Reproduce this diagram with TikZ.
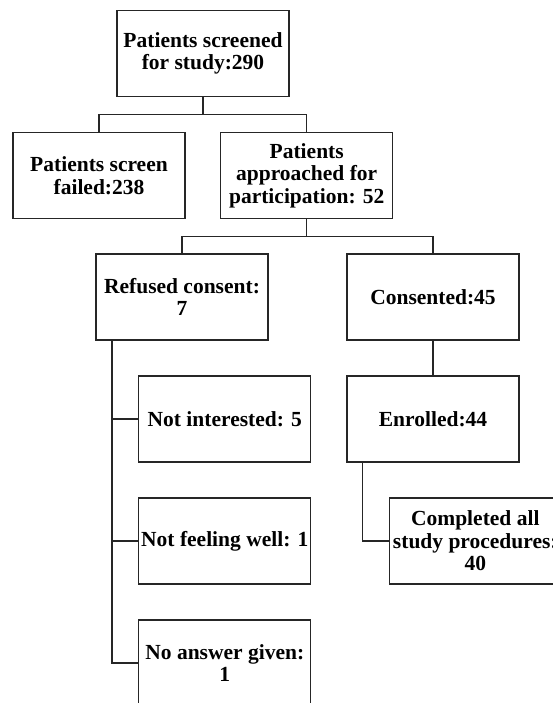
\documentclass[tikz,border=0pt]{standalone}
\usepackage{fontspec}
\setmainfont{Liberation Serif}
\begin{document}
\begin{tikzpicture}[x=1pt,y=-1pt,
  box/.style={draw=black!85, line width=1.1pt, minimum width=172pt, minimum height=86pt,
    inner sep=1pt, align=center, font=\bfseries\fontsize{21.5}{22.5}\selectfont},
  conn/.style={draw=black!85, line width=1.1pt}]
\clip (0,0) rectangle (553,703);
\fill[white] (0,0) rectangle (553,703);
\node[box] (top) at (203,53.5) {Patients screened\\for study:290};
\node[box] (fail) at (99,175.5) {Patients screen\\failed:238};
\node[box] (appr) at (306.7,175.5) {Patients\\approached for\\participation: 52};
\node[box] (ref) at (182,297) {Refused consent:\\7};
\node[box] (cons) at (433,297) {Consented:45};
\node[box] (notint) at (224.8,419) {Not interested: 5};
\node[box] (enr) at (433,419) {Enrolled:44};
\node[box] (notfeel) at (224.8,541) {Not feeling well: 1};
\node[box] (comp) at (475.3,541) {Completed all\\study procedures:\\40};
\node[box] (noans) at (224.8,663) {No answer given:\\1};
\coordinate (j1) at (203,114.3);
\coordinate (j2) at (306.7,236.5);
\coordinate (r1) at ([xshift=16.5pt]ref.south west);
\coordinate (e1) at ([xshift=16.4pt]enr.south west);
\draw[conn] (top.south) -- (j1);
\draw[conn] (fail.north) |- (j1) -| (appr.north);
\draw[conn] (appr.south) -- (j2);
\draw[conn] (ref.north) |- (j2) -| (cons.north);
\draw[conn] (cons.south) -- (enr.north);
\draw[conn] (r1) |- (noans.west);
\draw[conn] (r1 |- notint.west) -- (notint.west);
\draw[conn] (r1 |- notfeel.west) -- (notfeel.west);
\draw[conn] (e1) |- (comp.west);
\end{tikzpicture}
\end{document}
